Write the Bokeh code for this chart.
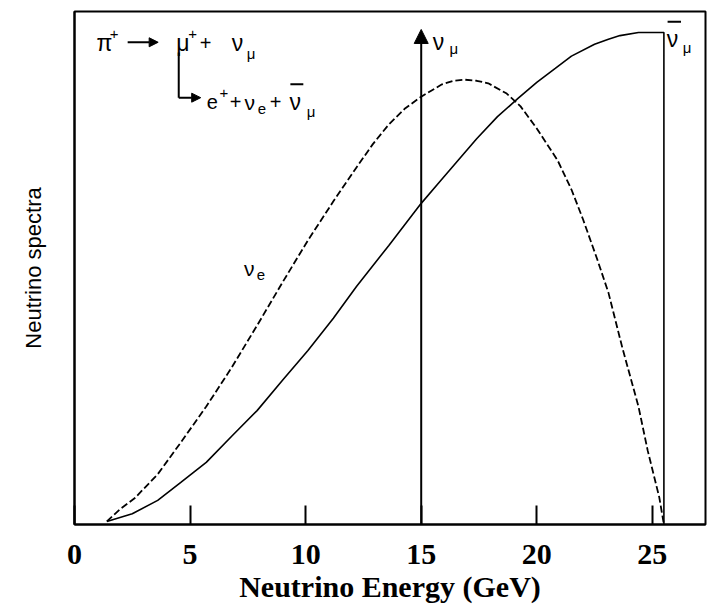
from bokeh.plotting import figure
from bokeh.models import Range1d, FixedTicker, Arrow, NormalHead, Label
from bokeh.embed import file_html
from bokeh.resources import INLINE

# ---- data ----
# anti-nu_mu spectrum (solid line), energy in GeV, arbitrary units
solid_x = [1.4, 2.5, 3.6, 4.6, 5.7, 6.8, 7.9, 9.0, 10.1, 11.2, 12.2, 13.6, 15.0, 15.8,
           16.6, 17.4, 18.3, 19.2, 20.0, 20.8, 21.5, 22.5, 23.1, 23.6, 24.4, 25.0, 25.5, 25.5]
solid_y = [0.6, 2.1, 4.7, 8.2, 12.1, 17.2, 22.2, 28.1, 33.9, 40.2, 46.4, 54.4, 62.6, 66.8,
           71.0, 75.2, 79.5, 83.1, 86.2, 88.9, 91.3, 93.6, 94.6, 95.3, 95.9, 95.9, 95.9, 0.0]
# nu_e spectrum (dashed line)
dash_x = [1.4, 2.0, 2.6, 3.6, 4.6, 5.7, 6.8, 7.9, 9.0, 10.1, 11.2, 12.2, 12.9, 13.6, 14.3,
          15.0, 15.9, 16.4, 16.9, 17.4, 17.9, 18.7, 19.3, 20.0, 20.9, 21.5, 22.0, 22.6,
          23.1, 23.7, 24.4, 24.8, 25.3, 25.5]
dash_y = [0.6, 3.1, 5.1, 9.8, 16.0, 23.0, 30.6, 38.8, 47.2, 55.4, 63.0, 69.6, 74.1, 78.0, 81.1,
          83.4, 85.8, 86.5, 86.7, 86.5, 86.0, 84.0, 81.5, 77.2, 71.0, 65.3, 59.5, 51.9,
          45.2, 34.5, 23.0, 14.4, 5.3, 0.0]
# nu_mu line from pion decay
nu_mu_energy = 15.0
nu_mu_top = 96.5

x_ticks = [0, 5, 10, 15, 20, 25]
x_title = "Neutrino Energy (GeV)"
y_title = "Neutrino spectra"

# text annotations: (text, x, y, font size px)
notes = [
    ("π", 0.95, 93.8, 23), ("+", 1.52, 95.6, 15),
    ("μ", 4.40, 93.8, 23), ("+", 4.92, 95.6, 15), ("+", 5.42, 93.8, 20),
    ("ν", 6.80, 93.8, 23), ("μ", 7.45, 91.9, 15),
    ("e", 5.72, 82.3, 20), ("+", 6.27, 84.1, 15), ("+", 6.72, 82.3, 20),
    ("ν", 7.36, 82.3, 21), ("e", 7.93, 80.9, 15), ("+", 8.45, 82.3, 20),
    ("ν", 9.30, 82.3, 23), ("μ", 10.05, 80.6, 15),
    ("ν", 15.50, 94.0, 23), ("μ", 16.22, 92.8, 15),
    ("ν", 25.62, 94.6, 23), ("μ", 26.32, 93.0, 15),
    ("ν", 7.33, 49.9, 21), ("e", 7.88, 48.6, 15),
]
# decay-chain arrows and overbars: (x0, y0, x1, y1, head)
chain = [(2.30, 94.0, 3.62, 94.0, True),
         (4.51, 92.0, 4.51, 83.2, False),
         (4.51, 83.2, 5.46, 83.2, True),
         (9.34, 85.8, 9.90, 85.8, False),
         (25.66, 98.0, 26.24, 98.0, False)]

p = figure(width=709, height=610, x_range=Range1d(0, 27.3), y_range=Range1d(0, 100),
           output_backend="svg", toolbar_location=None,
           min_border_left=74, min_border_right=4, min_border_top=11, min_border_bottom=86)
p.background_fill_color = "white"
p.border_fill_color = "white"
p.outline_line_color = "black"
p.outline_line_width = 2
p.xgrid.visible = False
p.ygrid.visible = False

p.xaxis.ticker = FixedTicker(ticks=x_ticks)
p.xaxis.minor_tick_line_color = None
p.xaxis.major_tick_in = 19
p.xaxis.major_tick_out = 0
p.xaxis.major_tick_line_width = 2
p.xaxis.axis_line_width = 2
p.xaxis.major_label_standoff = 20
p.xaxis.major_label_text_font = "Liberation Serif"
p.xaxis.major_label_text_font_style = "bold"
p.xaxis.major_label_text_font_size = "30px"
p.xaxis.major_label_text_color = "black"
p.xaxis.axis_label = x_title
p.xaxis.axis_label_text_font = "Liberation Serif"
p.xaxis.axis_label_text_font_style = "bold"
p.xaxis.axis_label_text_font_size = "30px"
p.xaxis.axis_label_text_color = "black"
p.xaxis.axis_label_standoff = 3

p.yaxis.ticker = FixedTicker(ticks=[])
p.yaxis.minor_tick_line_color = None
p.yaxis.major_tick_out = 0
p.yaxis.axis_line_width = 2
p.yaxis.axis_label = y_title
p.yaxis.axis_label_text_font = "Liberation Sans"
p.yaxis.axis_label_text_font_style = "normal"
p.yaxis.axis_label_text_font_size = "22px"
p.yaxis.axis_label_text_color = "black"
p.yaxis.axis_label_standoff = 29

p.line(solid_x, solid_y, line_color="black", line_width=1.6)
p.line(dash_x, dash_y, line_color="black", line_width=1.8, line_dash="7 3")

p.add_layout(Arrow(x_start=nu_mu_energy, y_start=0, x_end=nu_mu_energy, y_end=nu_mu_top,
                   line_width=2, line_color="black",
                   end=NormalHead(size=14, fill_color="black", line_color="black")))

for x0, y0, x1, y1, head in chain:
    p.add_layout(Arrow(x_start=x0, y_start=y0, x_end=x1, y_end=y1,
                       line_width=2, line_color="black",
                       end=NormalHead(size=9, fill_color="black", line_color="black") if head else None))

for t, x, y, s in notes:
    p.add_layout(Label(x=x, y=y, text=t, text_font="Liberation Sans",
                       text_font_size=f"{s}px", text_color="black",
                       text_baseline="alphabetic", text_align="left"))

open("out.html", "w").write(file_html(p, INLINE))
